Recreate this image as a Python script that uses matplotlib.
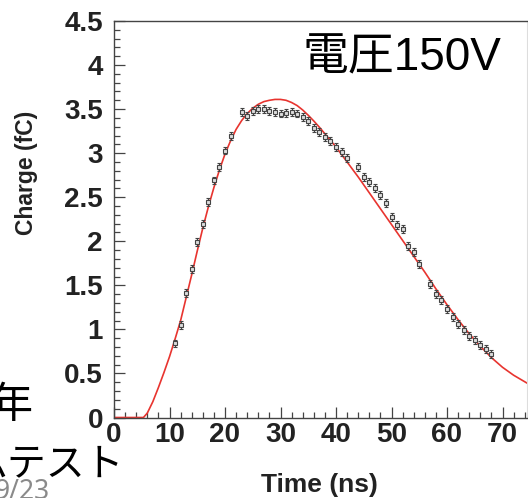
import matplotlib
matplotlib.use("Agg")
import matplotlib.pyplot as plt
import numpy as np
from matplotlib.ticker import MultipleLocator

# 測定データ (時間 ns, 電荷 fC)
t_data = [11, 12, 13, 14, 15, 16, 17, 18, 19, 20, 21,
          23, 24, 25, 26, 27, 28, 29, 30, 31, 32, 33, 34, 35, 36, 37, 38, 39, 40, 41, 42,
          44, 45, 46, 47, 48, 49, 50, 51, 52, 53, 54, 55,
          57, 58, 59, 60, 61, 62, 63, 64, 65, 66, 67, 68]
q_data = [0.84, 1.05, 1.41, 1.69, 1.99, 2.20, 2.45, 2.69, 2.84, 3.03, 3.20,
          3.47, 3.42, 3.48, 3.50, 3.50, 3.48, 3.47, 3.45, 3.46, 3.47, 3.45, 3.41, 3.37, 3.29, 3.24, 3.18, 3.14, 3.07, 3.01, 2.94,
          2.84, 2.73, 2.67, 2.60, 2.52, 2.43, 2.28, 2.18, 2.14, 1.95, 1.88, 1.74,
          1.52, 1.40, 1.33, 1.23, 1.14, 1.06, 0.99, 0.93, 0.875, 0.82, 0.78, 0.72]
q_err = 0.045

# フィット曲線
t_fit = [0, 2, 4, 5.3, 6, 7, 8, 9, 10, 11, 12, 13, 14, 15, 16, 17, 18, 19, 20,
         21, 22, 23, 24, 25, 26, 27, 28, 29, 30, 31, 32, 33, 34, 35, 36, 37, 38,
         39, 40, 42, 44, 46, 48, 50, 52, 54, 56, 58, 60, 62, 64, 66, 68, 70, 72, 74.7]
q_fit = [0, 0, 0, 0, 0.05, 0.18, 0.34, 0.51, 0.69, 0.89, 1.10, 1.36, 1.62, 1.89, 2.15, 2.39, 2.61, 2.81, 2.99,
         3.14, 3.27, 3.37, 3.45, 3.51, 3.555, 3.585, 3.60, 3.61, 3.61, 3.60, 3.575, 3.54, 3.49, 3.43, 3.365, 3.295, 3.22,
         3.145, 3.07, 2.90, 2.73, 2.55, 2.37, 2.19, 2.01, 1.83, 1.65, 1.46, 1.28, 1.11, 0.95, 0.81, 0.68, 0.57, 0.48, 0.38]

W, H = 528, 498
fig = plt.figure(figsize=(W / 100, H / 100), dpi=100)
ax = fig.add_axes([114 / W, (H - 417.5) / H, (527 - 114) / W, (417.5 - 21) / H])

ax.plot(t_fit, q_fit, color='#e8342f', lw=1.2, zorder=2)
ax.errorbar(t_data, q_data, yerr=q_err, fmt='s', ms=3.2, mfc='#dddddd', mec='#444444',
            mew=0.8, ecolor='#444444', elinewidth=0.9, capsize=1.5, zorder=3)

ax.set_xlim(0, (527 - 114) / 5.55)
ax.set_ylim(0, 4.5)
ax.xaxis.set_major_locator(MultipleLocator(10))
ax.xaxis.set_minor_locator(MultipleLocator(2))
ax.yaxis.set_minor_locator(MultipleLocator(0.1))
ax.set_yticks([0, 0.5, 1, 1.5, 2, 2.5, 3, 3.5, 4, 4.5])
ax.set_yticklabels(['0', '0.5', '1', '1.5', '2', '2.5', '3', '3.5', '4', '4.5'])

ax.tick_params(which='both', direction='in', color='#444444', width=0.9)
ax.tick_params(which='major', length=8)
ax.tick_params(which='minor', length=4)
ax.tick_params(axis='y', which='major', pad=8)
ax.tick_params(axis='x', which='major', pad=3)
for lab in ax.get_xticklabels() + ax.get_yticklabels():
    lab.set_fontfamily('Liberation Sans')
    lab.set_fontweight('bold')
    lab.set_fontsize(20)
    lab.set_color('#222222')

for s in ['left', 'bottom', 'top']:
    ax.spines[s].set_color('#444444')
    ax.spines[s].set_linewidth(1.0)
ax.spines['right'].set_color('#dddddd')

fig.text(27 / W, 1 - 173 / H, 'Charge (fC)', rotation=90, ha='center', va='center',
         fontsize=16.5, fontweight='bold', family='Liberation Sans', color='#222222')
fig.text(319 / W, 1 - 485 / H, 'Time (ns)', ha='center', va='center',
         fontsize=19, fontweight='bold', family='Liberation Sans', color='#222222')

# スライドの文字
fig.text(303 / W, 1 - 58 / H, '電圧150V', ha='left', va='center', fontsize=33,
         family=['Liberation Sans', 'Noto Sans CJK JP'], color='black')
fig.text(33 / W, 1 - 406 / H, '年', ha='right', va='center', fontsize=31,
         family=['Noto Sans CJK JP'], color='black')
fig.text(124 / W, 1 - 464 / H, 'ムテスト', ha='right', va='center', fontsize=28,
         family=['Noto Sans CJK JP'], color='black')
fig.text(-5 / W, 1 - 492 / H, '9/23', ha='left', va='center', fontsize=19,
         family=['Noto Sans'], color='#8a8a8a')

fig.savefig('out.png', dpi=100)
